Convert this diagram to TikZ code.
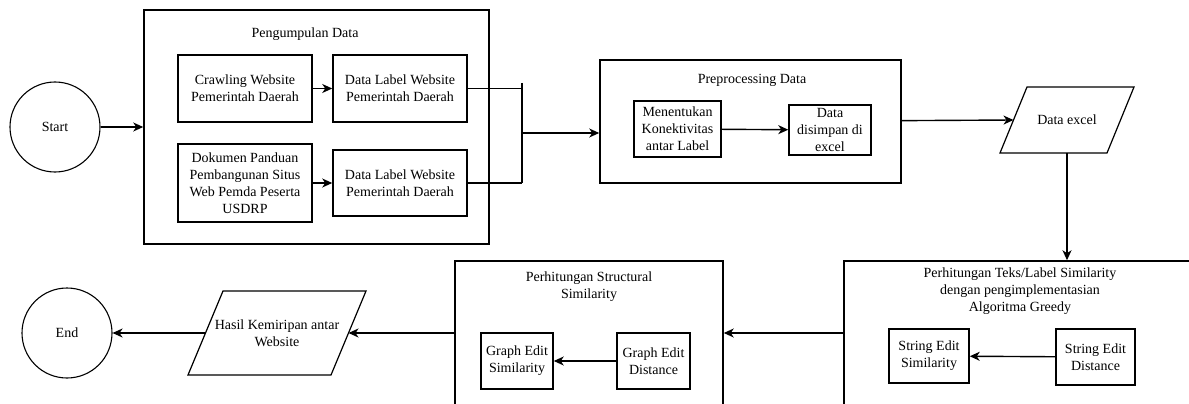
\documentclass[tikz,border=0pt]{standalone}
\usepackage{fontspec}
\setmainfont{Liberation Serif}
\usetikzlibrary{arrows.meta}

\begin{document}
\begin{tikzpicture}[x=1pt, y=-1pt,
        every node/.style={font=\fontsize{14}{17}\selectfont, align=center},
        terminal/.style={circle, draw, line width=1.1pt, minimum size=90pt, inner sep=0pt},
        stage/.style={draw, line width=1.5pt, inner sep=0pt},
        task/.style={draw, line width=1.5pt, inner sep=0pt},
        io/.style={draw, line width=1.2pt},
        flow/.style={-{Stealth[length=10pt,width=9pt,inset=3pt]}, line width=1.4pt},
        link/.style={line width=1.4pt}]
    \useasboundingbox (0,0) rectangle (1189,404);

    % Nodes
    \node[terminal] (start) at (55,127) {Start};
    \node[stage, minimum width=345pt, minimum height=234pt] (collect) at (316.5,127) {};
    \node (collecttitle) at (305,34) {Pengumpulan Data};
    \node[task, minimum width=134pt, minimum height=67pt] (crawl) at (245,88.5) {Crawling Website\\Pemerintah Daerah};
    \node[task, minimum width=134pt, minimum height=67pt] (label1) at (400,88.5) {Data Label Website\\Pemerintah Daerah};
    \node[task, minimum width=134pt, minimum height=78pt] (docs) at (245,183) {Dokumen Panduan\\Pembangunan Situs\\Web Pemda Peserta\\USDRP};
    \node[task, minimum width=134pt, minimum height=66pt] (label2) at (400,183) {Data Label Website\\Pemerintah Daerah};
    \coordinate (jtop) at (522,83);
    \coordinate (jmid) at (522,133);
    \coordinate (jbot) at (522,183);

    \node[stage, minimum width=301pt, minimum height=123pt] (prep) at (750.5,121.5) {};
    \node (preptitle) at (752,80) {Preprocessing Data};
    \node[task, minimum width=87pt, minimum height=56pt] (decide) at (677.5,129) {Menentukan\\Konektivitas\\antar Label};
    \node[task, minimum width=82pt, minimum height=50pt] (store) at (830,130) {Data\\disimpan di\\excel};

    \node (excel) at (1067,120) {Data excel};
    \draw[io] ([shift={(-67,33)}]excel.center) -- ++(107,0) -- ++(27,-66) -- ++(-107,0) -- cycle;
    \coordinate (excelL) at ([shift={(-53.5,0)}]excel.center);
    \coordinate (excelB) at ([shift={(0,33)}]excel.center);

    \node[stage, minimum width=356pt, minimum height=159pt] (teks) at (1022,340.5) {};
    \node (tekstitle) at (1020,291) {Perhitungan Teks/Label Similarity\\dengan pengimplementasian\\Algoritma Greedy};
    \node[task, minimum width=80pt, minimum height=54pt] (ses) at (929,356) {String Edit\\Similarity};
    \node[task, minimum width=79pt, minimum height=56pt] (sed) at (1095.5,357) {String Edit\\Distance};

    \node[stage, minimum width=268pt, minimum height=159pt] (struct) at (589,340.5) {};
    \node (structtitle) at (589,286.5) {Perhitungan Structural\\Similarity};
    \node[task, minimum width=72pt, minimum height=56pt] (ges) at (517,361) {Graph Edit\\Similarity};
    \node[task, minimum width=73pt, minimum height=56pt] (ged) at (653.5,361) {Graph Edit\\Distance};

    \node (hasil) at (277,333) {Hasil Kemiripan antar\\Website};
    \draw[io] ([shift={(-89,42)}]hasil.center) -- ++(143,0) -- ++(35,-84) -- ++(-143,0) -- cycle;
    \coordinate (hasilR) at ([shift={(71.5,0)}]hasil.center);
    \coordinate (hasilL) at ([shift={(-71.5,0)}]hasil.center);

    \node[terminal] (end) at (67,333) {End};

    % Edges
    \draw[flow] (start) -- (collect);
    \draw[flow] (crawl) -- (label1);
    \draw[flow] (docs) -- (label2);
    \draw[link] (label1) -- (label1 -| jtop);
    \draw[link] (label2) -- (label2 -| jbot);
    \draw[link] (jtop) -- (jbot);
    \draw[flow] (jmid) -- (jmid -| prep.west);
    \draw[flow] (decide) -- (store);
    \draw[flow] (prep) -- (excelL);
    \draw[flow] (excelB) -- (excelB |- teks.north);
    \draw[flow] (sed) -- (ses);
    \draw[flow] (teks.west |- hasil) -- (struct.east |- hasil);
    \draw[flow] (ged) -- (ges);
    \draw[flow] (struct.west |- hasil) -- (hasilR);
    \draw[flow] (hasilL) -- (end);
\end{tikzpicture}
\end{document}
